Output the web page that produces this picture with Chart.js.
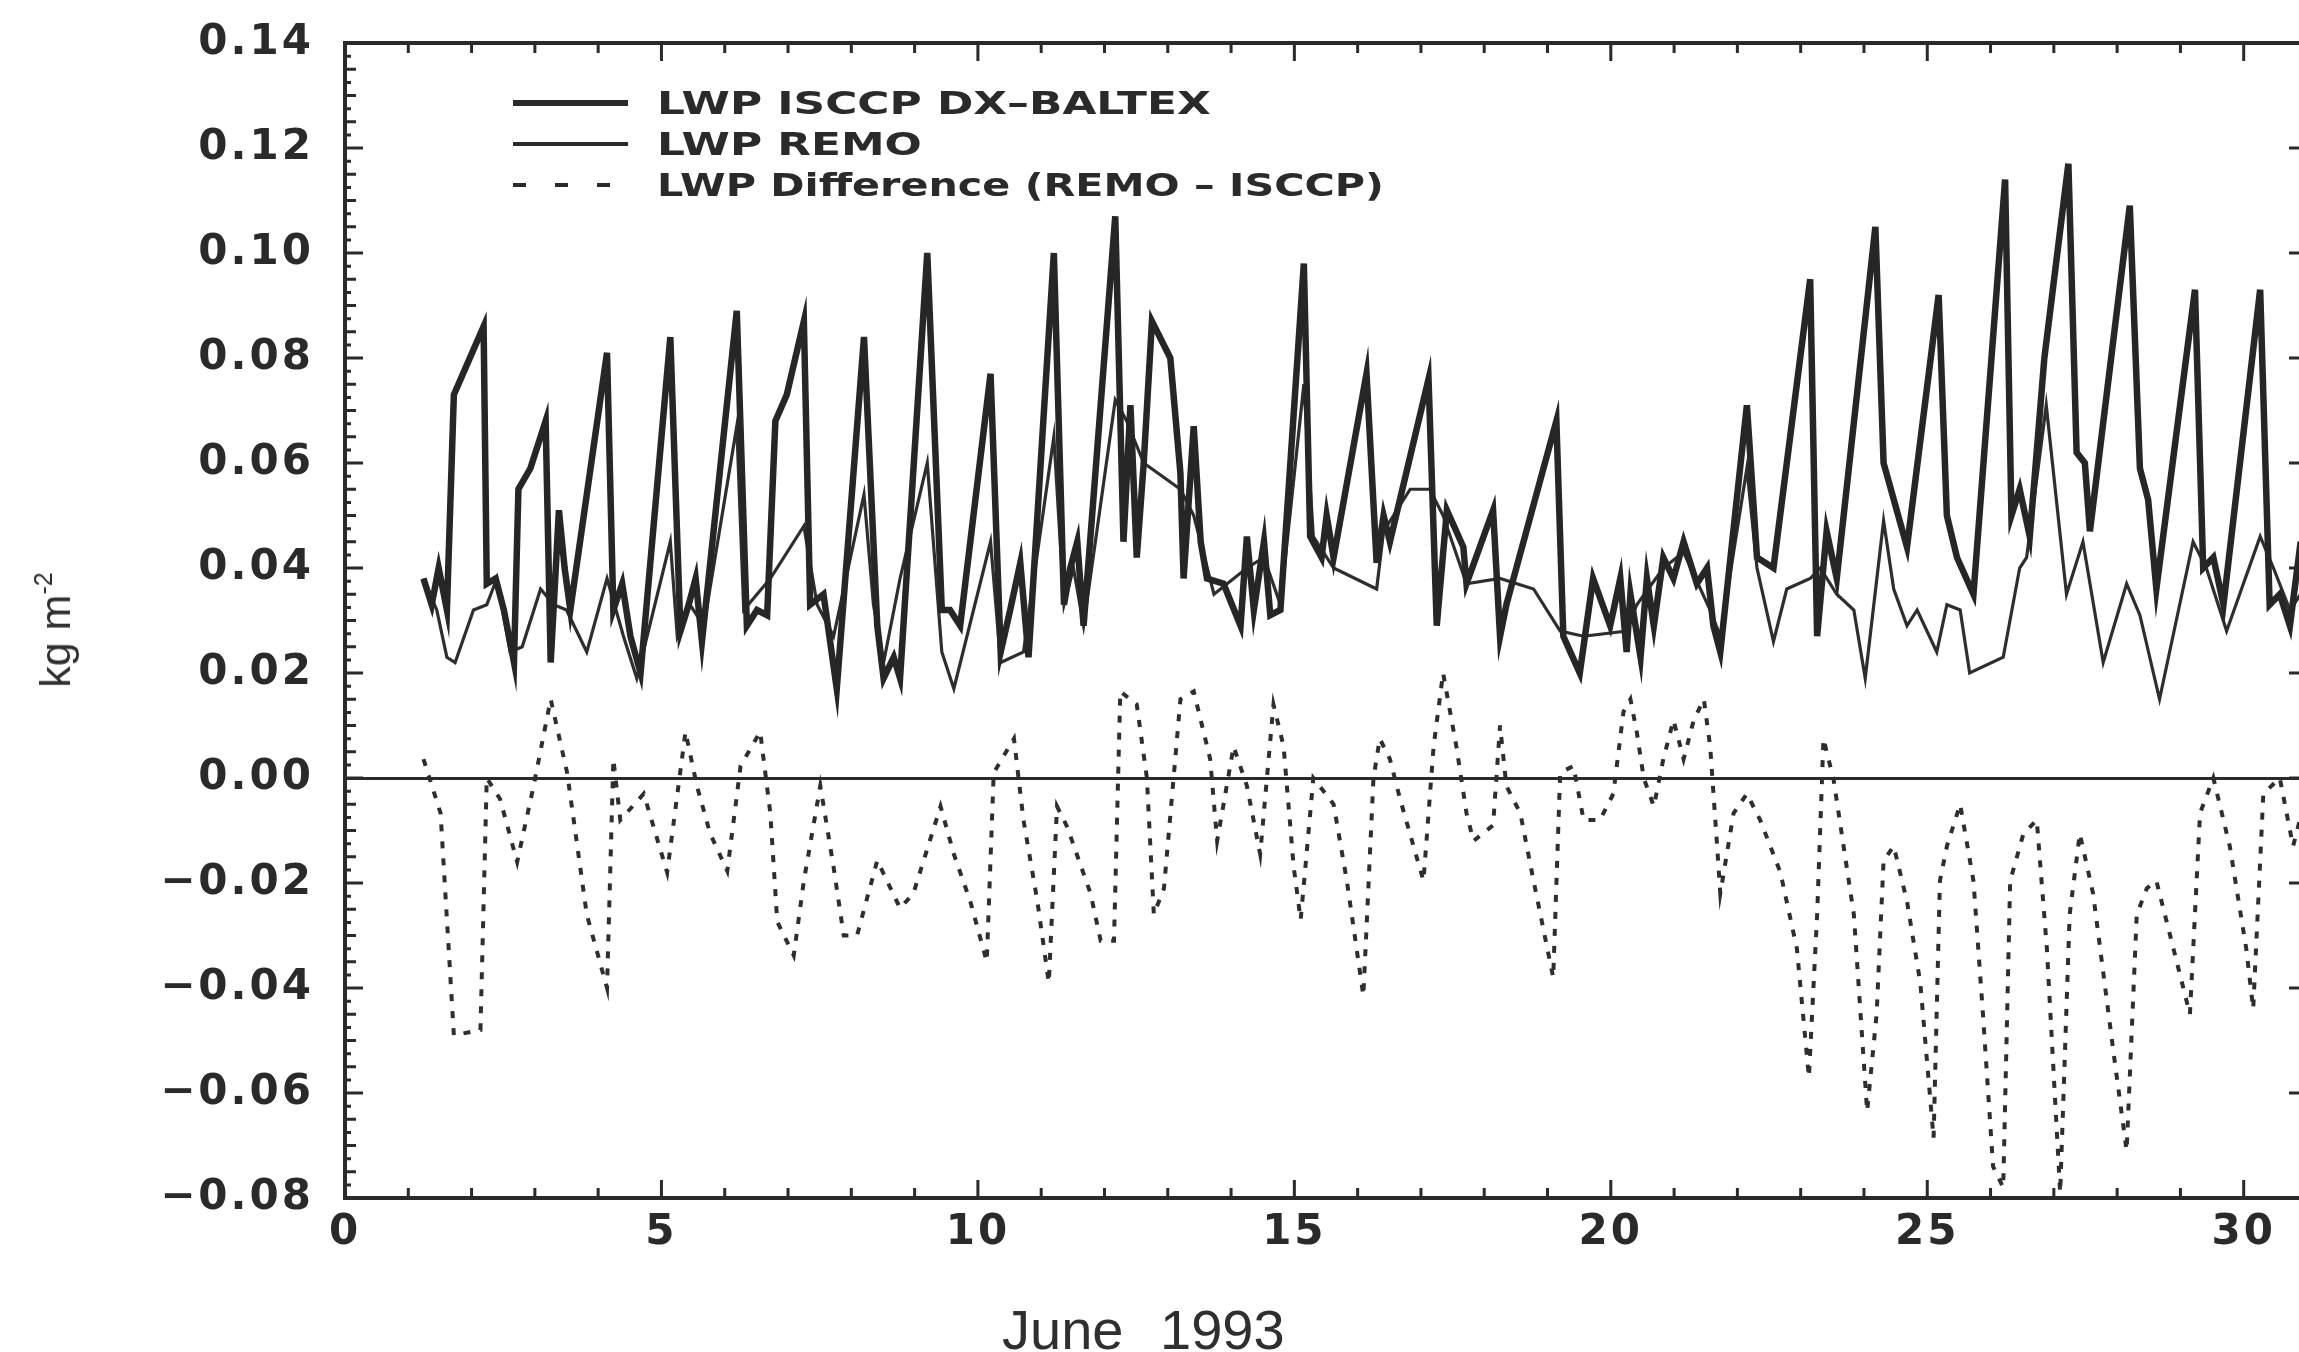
<!DOCTYPE html>
<html>
<head>
<meta charset="utf-8">
<script src="https://cdn.jsdelivr.net/npm/chart.js@4.4.1/dist/chart.umd.min.js"></script>
<style>
  html, body { margin: 0; padding: 0; background: #fff; }
  #wrap { position: relative; width: 2299px; height: 1352px; overflow: hidden; }
  #chart { position: absolute; left: 0; top: 0; }
  .key { position: absolute; left: 0; width: 1300px; height: 32px; }
  .sample { position: absolute; left: 513px; width: 115px; background: #2a2a2a; }
  .label { position: absolute; left: 657px; top: 0; font: bold 32px "DejaVu Sans"; line-height: 32px;
           color: #2a2a2a; white-space: nowrap; transform: scaleX(1.37); transform-origin: 0 0; }
  #ytitle { position: absolute; left: 58px; top: 630px; font: 43px "Liberation Sans"; line-height: 46px;
            color: #2f2f2f; white-space: nowrap; transform: translate(-50%, -50%) rotate(-90deg); }
  #ytitle span { font-size: 25px; position: relative; top: -18px; }
  #xtitle { position: absolute; left: 1002px; top: 1302px; font: 56px "Liberation Sans"; line-height: 56px;
            color: #2f2f2f; word-spacing: 21px; white-space: nowrap; }
</style>
</head>
<body>
<div id="wrap">
  <canvas id="chart" width="2307" height="1352"></canvas>
  <div class="key" style="top:87px">
    <div class="sample" style="top:13px;height:6px"></div>
    <div class="label">LWP ISCCP DX–BALTEX</div>
  </div>
  <div class="key" style="top:128px">
    <div class="sample" style="top:14px;height:4px"></div>
    <div class="label">LWP REMO</div>
  </div>
  <div class="key" style="top:169px">
    <div class="sample" style="top:14px;height:4px;background:repeating-linear-gradient(90deg,#2a2a2a 0 13px,transparent 13px 42px)"></div>
    <div class="label" style="transform:scaleX(1.29)">LWP Difference (REMO – ISCCP)</div>
  </div>
  <div id="ytitle">kg m<span>-2</span></div>
  <div id="xtitle">June 1993</div>
</div>
<script>
// LWP ISCCP DX-BALTEX (thick line), day of June / kg m-2
const isccpDay = [1.24, 1.37, 1.48, 1.61, 1.72, 2.19, 2.24, 2.38, 2.51, 2.67, 2.74, 2.93, 3.17, 3.25, 3.38, 3.47, 3.56,
  4.14, 4.24, 4.38, 4.51, 4.67, 5.14, 5.30, 5.43, 5.54, 5.64, 6.19, 6.35, 6.51, 6.67, 6.80, 6.98, 7.25, 7.35, 7.56, 7.77,
  8.20, 8.41, 8.51, 8.67, 8.77, 9.20, 9.43, 9.56, 9.72, 10.20, 10.36, 10.51, 10.67, 10.80, 11.20, 11.36, 11.46, 11.57, 11.67,
  12.17, 12.30, 12.41, 12.51, 12.62, 12.75, 13.04, 13.20, 13.25, 13.41, 13.52, 13.62, 13.88, 14.15, 14.25, 14.36, 14.52, 14.62, 14.78,
  15.15, 15.25, 15.43, 15.51, 15.62, 16.14, 16.30, 16.41, 16.51, 17.12, 17.25, 17.41, 17.67, 17.72, 18.14, 18.25, 18.35,
  19.14, 19.25, 19.51, 19.72, 19.99, 20.15, 20.25, 20.31, 20.47, 20.57, 20.68, 20.83, 20.99, 21.15, 21.36, 21.52, 21.62, 21.73,
  22.15, 22.31, 22.57, 23.15, 23.26, 23.41, 23.57, 24.18, 24.31, 24.68, 25.18, 25.31, 25.47, 25.73, 26.23, 26.33, 26.46, 26.62,
  26.85, 27.23, 27.36, 27.49, 27.57, 28.20, 28.36, 28.49, 28.62, 29.23, 29.36, 29.52, 29.68, 30.26, 30.41, 30.57, 30.73, 30.90];
const isccpVal = [0.038, 0.033, 0.040, 0.032, 0.073, 0.086, 0.037, 0.038, 0.032, 0.022, 0.055, 0.059, 0.068, 0.022, 0.051, 0.040, 0.032,
  0.081, 0.032, 0.037, 0.027, 0.020, 0.084, 0.028, 0.033, 0.038, 0.026, 0.089, 0.029, 0.032, 0.031, 0.068, 0.073, 0.087, 0.033, 0.035, 0.017,
  0.084, 0.029, 0.019, 0.023, 0.019, 0.100, 0.032, 0.032, 0.029, 0.077, 0.024, 0.032, 0.041, 0.023, 0.100, 0.033, 0.040, 0.045, 0.029,
  0.107, 0.045, 0.071, 0.042, 0.060, 0.087, 0.080, 0.058, 0.038, 0.067, 0.045, 0.038, 0.037, 0.029, 0.046, 0.032, 0.045, 0.031, 0.032,
  0.098, 0.046, 0.042, 0.050, 0.042, 0.077, 0.041, 0.050, 0.045, 0.076, 0.029, 0.051, 0.044, 0.037, 0.051, 0.027, 0.033,
  0.068, 0.027, 0.020, 0.038, 0.029, 0.038, 0.024, 0.035, 0.023, 0.038, 0.029, 0.042, 0.038, 0.045, 0.037, 0.040, 0.029, 0.024,
  0.071, 0.042, 0.040, 0.095, 0.027, 0.047, 0.038, 0.105, 0.060, 0.044, 0.092, 0.050, 0.042, 0.035, 0.114, 0.050, 0.055, 0.046,
  0.080, 0.117, 0.062, 0.060, 0.047, 0.109, 0.059, 0.053, 0.036, 0.093, 0.040, 0.042, 0.033, 0.093, 0.033, 0.035, 0.029, 0.045];

// LWP REMO (thin line)
const remoDay = [1.24, 1.45, 1.61, 1.74, 2.03, 2.24, 2.40, 2.61, 2.80, 3.09, 3.30, 3.50, 3.82, 4.14, 4.40, 4.61,
  5.14, 5.25, 5.45, 5.67, 6.19, 6.30, 6.51, 6.72, 7.25, 7.46, 7.72, 8.20, 8.35, 8.51, 8.77, 9.20, 9.43, 9.62,
  10.20, 10.36, 10.72, 11.20, 11.36, 11.51, 11.67, 12.17, 12.35, 12.62, 13.20, 13.41, 13.73, 14.25, 14.52, 14.78,
  15.15, 15.30, 15.62, 16.30, 16.41, 16.83, 17.14, 17.35, 17.72, 18.25, 18.78, 19.20, 19.57, 20.25, 20.41,
  20.83, 21.15, 21.57, 21.73, 22.15, 22.31, 22.57, 22.78, 23.15, 23.31, 23.57, 23.84, 24.02, 24.31, 24.47, 24.68, 24.84,
  25.15, 25.31, 25.52, 25.67, 26.20, 26.46, 26.57, 26.88, 27.20, 27.46, 27.78, 28.15, 28.36, 28.67,
  29.20, 29.41, 29.73, 30.26, 30.47, 30.73, 30.90];
const remoVal = [0.038, 0.032, 0.023, 0.022, 0.032, 0.033, 0.038, 0.024, 0.025, 0.036, 0.033, 0.032, 0.024, 0.038, 0.027, 0.019,
  0.045, 0.027, 0.033, 0.029, 0.067, 0.032, 0.035, 0.038, 0.048, 0.033, 0.027, 0.054, 0.033, 0.022, 0.038, 0.060, 0.024, 0.017,
  0.045, 0.022, 0.024, 0.065, 0.033, 0.040, 0.029, 0.072, 0.068, 0.060, 0.055, 0.050, 0.035, 0.040, 0.042, 0.033,
  0.075, 0.046, 0.040, 0.036, 0.047, 0.055, 0.055, 0.050, 0.037, 0.038, 0.036, 0.028, 0.027, 0.028, 0.033,
  0.040, 0.043, 0.032, 0.027, 0.059, 0.040, 0.026, 0.036, 0.038, 0.040, 0.035, 0.032, 0.019, 0.049, 0.036, 0.029, 0.032,
  0.024, 0.033, 0.032, 0.020, 0.023, 0.040, 0.042, 0.071, 0.035, 0.045, 0.022, 0.037, 0.031, 0.015,
  0.045, 0.040, 0.028, 0.046, 0.040, 0.032, 0.035];

// LWP Difference (REMO - ISCCP), dashed
const diffDay = [1.24, 1.51, 1.72, 2.14, 2.24, 2.45, 2.72, 2.98, 3.25, 3.51, 3.82, 4.14, 4.24, 4.35, 4.72, 5.09,
  5.38, 5.56, 5.77, 6.04, 6.25, 6.56, 6.72, 6.83, 7.09, 7.25, 7.51, 7.72, 7.88, 8.09, 8.41, 8.77, 8.98,
  9.41, 9.62, 9.88, 10.14, 10.25, 10.57, 10.72, 10.94, 11.12, 11.25, 11.41, 11.78, 11.94, 12.15, 12.25, 12.51, 12.67, 12.78, 12.94,
  13.20, 13.41, 13.67, 13.78, 14.04, 14.25, 14.46, 14.67, 14.83, 14.99, 15.10, 15.30, 15.62, 15.83, 16.09, 16.25, 16.35, 16.51, 16.67,
  17.04, 17.20, 17.35, 17.56, 17.72, 17.83, 18.14, 18.25, 18.35, 18.57, 18.78, 19.09, 19.20, 19.41, 19.57, 19.83, 20.04, 20.20, 20.31,
  20.41, 20.52, 20.68, 20.83, 20.99, 21.15, 21.31, 21.47, 21.57, 21.68, 21.73, 21.94, 22.15, 22.36, 22.68, 22.94, 23.13, 23.26, 23.36,
  23.52, 23.84, 24.05, 24.20, 24.31, 24.47, 24.68, 24.89, 25.10, 25.20, 25.31, 25.52, 25.73, 25.88, 26.04, 26.20, 26.31, 26.52, 26.73,
  26.89, 27.10, 27.25, 27.41, 27.62, 27.94, 28.15, 28.31, 28.47, 28.62, 28.89, 29.15, 29.31, 29.52, 29.78, 30.04, 30.15, 30.31, 30.57,
  30.78, 30.95];
const diffVal = [0.0036, -0.0067, -0.049, -0.048, 0.000, -0.004, -0.016, -0.0015, 0.015, 0.001, -0.026, -0.040, 0.0036, -0.008, -0.003, -0.018,
  0.0088, -0.0015, -0.0106, -0.0177, 0.0023, 0.0088, -0.0067, -0.0274, -0.0338, -0.0196, -0.0015, -0.017, -0.030, -0.030, -0.0157, -0.0248, -0.022,
  -0.0054, -0.0145, -0.0235, -0.035, 0.001, 0.0075, -0.008, -0.0235, -0.039, -0.0054, -0.0093, -0.022, -0.031, -0.031, 0.0165, 0.014, 0.000, -0.026, -0.021,
  0.015, 0.0165, 0.0036, -0.012, 0.006, -0.0015, -0.0145, 0.014, 0.006, -0.017, -0.027, 0.000, -0.005, -0.0196, -0.0415, 0.000, 0.0075, 0.0036, -0.004,
  -0.0196, 0.006, 0.020, 0.006, -0.0067, -0.012, -0.009, 0.010, -0.0015, -0.0067, -0.0196, -0.038, 0.001, 0.0023, -0.008, -0.008, -0.003, 0.0126, 0.015,
  0.0088, 0.000, -0.0054, 0.0036, 0.011, 0.0036, 0.011, 0.015, 0.006, -0.013, -0.022, -0.0067, -0.003, -0.008, -0.018, -0.0325, -0.057, -0.026, 0.0075,
  -0.0003, -0.026, -0.0635, -0.045, -0.0157, -0.013, -0.0235, -0.039, -0.0686, -0.0196, -0.013, -0.005, -0.0196, -0.045, -0.074, -0.078, -0.0196, -0.0106, -0.008,
  -0.0325, -0.079, -0.026, -0.0106, -0.022, -0.052, -0.071, -0.026, -0.021, -0.0196, -0.0325, -0.045, -0.0067, 0.000, -0.013, -0.0325, -0.044, -0.003, 0.000,
  -0.013, -0.005];

const xMin = 0, xMax = 31, xStep = 5;
const yMin = -0.08, yMax = 0.14, yStep = 0.02;

const ink = '#2a2a2a';
const tickFont = { family: 'DejaVu Sans', size: 42, weight: 'bold' };

function toPoints(days, vals) {
  return days.map((d, i) => ({ x: d, y: vals[i] }));
}

// wide lettering like the original figure
const wideText = {
  id: 'wideText',
  beforeUpdate(chart) { chart.ctx.letterSpacing = '3px'; },
  beforeDraw(chart) { chart.ctx.letterSpacing = '3px'; }
};

// tick marks pointing inwards on all four sides, plus top/right frame
const innerTicks = {
  id: 'innerTicks',
  afterDraw(chart) {
    const { ctx, chartArea: a, scales: { x, y } } = chart;
    ctx.save();
    ctx.strokeStyle = ink;
    ctx.lineWidth = 3;
    ctx.beginPath();
    for (let i = 0; i <= 88; i++) {
      const py = y.getPixelForValue(yMin + i * 0.0025);
      const len = i % 8 === 0 ? 18 : (i % 2 === 0 ? 11 : 6);
      ctx.moveTo(a.left, py); ctx.lineTo(a.left + len, py);
      if (i % 8 === 0) { ctx.moveTo(a.right, py); ctx.lineTo(a.right - len, py); }
    }
    for (let d = xMin; d <= xMax; d++) {
      const px = x.getPixelForValue(d);
      const len = d % 5 === 0 ? 18 : 10;
      ctx.moveTo(px, a.bottom); ctx.lineTo(px, a.bottom - len);
      ctx.moveTo(px, a.top); ctx.lineTo(px, a.top + len);
    }
    ctx.stroke();
    ctx.lineWidth = 4;
    ctx.beginPath();
    ctx.moveTo(a.left, a.top);
    ctx.lineTo(a.right, a.top);
    ctx.lineTo(a.right, a.bottom);
    ctx.stroke();
    ctx.restore();
  }
};

let ctx = document.querySelector('#chart').getContext('2d');
let myChart = new Chart(ctx, {
  type: 'line',
  data: {
    datasets: [{
      label: 'LWP ISCCP DX-BALTEX',
      data: toPoints(isccpDay, isccpVal),
      borderColor: '#262626',
      borderWidth: 6.5
    }, {
      label: 'LWP REMO',
      data: toPoints(remoDay, remoVal),
      borderColor: '#2e2e2e',
      borderWidth: 3.2
    }, {
      label: 'LWP Difference (REMO - ISCCP)',
      data: toPoints(diffDay, diffVal),
      borderColor: '#2e2e2e',
      borderWidth: 4,
      borderDash: [7, 10]
    }]
  },
  options: {
    responsive: false,
    animation: false,
    devicePixelRatio: 1,
    layout: { padding: { top: 43, right: 0, bottom: 0, left: 0 } },
    elements: { point: { radius: 0 }, line: { tension: 0, fill: false } },
    plugins: { legend: { display: false }, tooltip: { enabled: false } },
    scales: {
      x: {
        type: 'linear',
        min: xMin,
        max: xMax,
        grid: { display: false, drawTicks: false },
        border: { display: true, color: ink, width: 4 },
        ticks: { stepSize: xStep, includeBounds: false, autoSkip: false, maxRotation: 0,
                 padding: 10, color: ink, font: tickFont },
        afterFit(scale) {
          scale.height = 154;
          scale.paddingLeft = 0;
          scale.paddingRight = 0;
        }
      },
      y: {
        min: yMin,
        max: yMax,
        grid: {
          drawTicks: false,
          lineWidth: 3,
          color: c => (c.tick && Math.abs(c.tick.value) < 1e-9) ? ink : 'rgba(0,0,0,0)'
        },
        border: { display: true, color: ink, width: 4 },
        ticks: {
          stepSize: yStep,
          padding: 31,
          color: ink,
          font: tickFont,
          callback: v => (v < -1e-9 ? '\u2212' : '') + Math.abs(v).toFixed(2)
        },
        afterFit(scale) {
          scale.width = 345;
          scale.paddingTop = 0;
          scale.paddingBottom = 0;
        }
      }
    }
  },
  plugins: [wideText, innerTicks]
});
</script>
</body>
</html>
